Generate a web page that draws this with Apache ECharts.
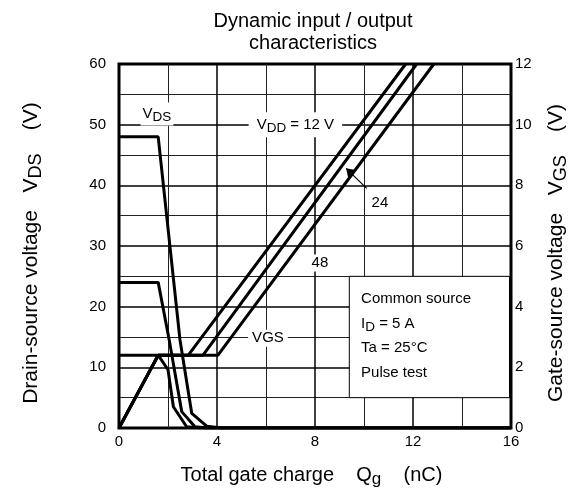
<!DOCTYPE html>
<html><head><meta charset="utf-8">
<script src="https://cdn.jsdelivr.net/npm/echarts@6/dist/echarts.min.js"></script>
<style>html,body{margin:0;padding:0;background:#fff}#c{width:580px;height:491px}</style>
</head><body><div id="c"></div>
<script>
// ---- data (Qg in nC, VDS in V on left axis, VGS in V on right axis) ----
const vds12 = [[0,12],[1.6,12],[2.0,9.6],[2.22,3.5],[2.76,0.2],[3.3,0],[16,0]];
const vds24 = [[0,24],[1.6,24],[2.05,14.5],[2.56,2.7],[3.1,0.2],[3.6,0],[16,0]];
const vds48 = [[0,48],[1.6,48],[2.49,14.5],[2.97,2.4],[3.58,0.3],[4.2,0],[16,0]];
const vgs12 = [[0,0],[1.6,2.4],[2.83,2.4],[11.7,12]];
const vgs24 = [[0,0],[1.6,2.4],[3.43,2.4],[12.15,12]];
const vgs48 = [[0,0],[1.6,2.4],[4.04,2.4],[12.85,12]];
const annoText = ['{v|V}{s|DS}','{v|V}{s|DD}{v| = 12 V}','{v|24}','{v|48}','{v|VGS}'];
const annoAt = [[1.55,51.75],[7.2,50],[10.65,37.1],[8.2,27.2],[6.08,14.8]];
const annoPad = [[1,2],[2,8],[2,3],[1,3],[1,4]];
const noteText = '{t|Common source}\n{t|I}{s|D}{t| = 5 A}\n{t|Ta = 25°C}\n{t|Pulse test}';
const noteAt = [9.88,15.16];
const noteBox = [[9.4,5],[15.94,25]];
const arrowFrom = [10.11,39.5], arrowTo = [9.27,42.8];

const FF = "'Liberation Sans', Arial, sans-serif";
const chart = echarts.init(document.getElementById('c'), null, {renderer:'canvas'});
const lineS = (d, yi) => ({type:'line', data:d, yAxisIndex:yi, symbol:'none', silent:true,
  lineStyle:{color:'#000', width:3}, z:3});
const gRich = {
  v:{fontSize:15, fontFamily:FF, fill:'#000'},
  s:{fontSize:13.5, fontFamily:FF, fill:'#000', padding:[7,0,0,0]},
  t:{fontSize:15, fontFamily:FF, fill:'#000', lineHeight:24.5}
};
const nameRich = {
  v:{fontSize:21, fontFamily:FF, color:'#000'},
  s:{fontSize:18, fontFamily:FF, color:'#000', padding:[10,0,0,0]},
  e:{fontSize:21, width:14},
  x:{fontSize:20, fontFamily:FF, color:'#000'},
  xs:{fontSize:17, fontFamily:FF, color:'#000', padding:[9,0,0,0]},
  xe:{fontSize:20, width:7}
};
const tick = {fontSize:15, fontFamily:FF, color:'#000'};
chart.setOption({
  animation:false,
  backgroundColor:'#fff',
  title:{text:'Dynamic input / output\ncharacteristics', left:308, top:5, textAlign:'center',
    textStyle:{fontSize:20, fontWeight:'normal', fontFamily:FF, color:'#000', lineHeight:22}},
  grid:{left:119, right:69, top:64, bottom:63, show:true, borderColor:'#000', borderWidth:3,
    backgroundColor:'transparent', containLabel:false, outerBoundsMode:'none'},
  xAxis:{type:'value', min:0, max:16, interval:4,
    name:'{x|Total gate charge    Q}{xs|g}{x|    (nC)}{xe| }', nameLocation:'middle', nameGap:34,
    nameTextStyle:{fontSize:20, fontFamily:FF, color:'#000', rich:nameRich},
    axisLine:{show:false}, axisTick:{show:false},
    axisLabel:Object.assign({margin:6}, tick),
    minorTick:{show:false, splitNumber:2},
    splitLine:{show:true, lineStyle:{color:'#000', width:1.5}},
    minorSplitLine:{show:true, lineStyle:{color:'#222', width:1}}},
  yAxis:[
    {type:'value', min:0, max:60, interval:10,
     name:'{v|Drain-source voltage   V}{s|DS}{v|    (V)}{e| }', nameLocation:'middle', nameGap:74, nameRotate:90,
     nameTextStyle:{fontSize:21, fontFamily:FF, color:'#000', rich:nameRich},
     axisLine:{show:false}, axisTick:{show:false},
     axisLabel:Object.assign({margin:13}, tick),
     minorTick:{show:false, splitNumber:2},
     splitLine:{show:true, lineStyle:{color:'#000', width:1.5}},
     minorSplitLine:{show:true, lineStyle:{color:'#222', width:1}}},
    {type:'value', min:0, max:12, interval:2, position:'right',
     name:'{v|Gate-source voltage   V}{s|GS}{v|    (V)}{e| }', nameLocation:'middle', nameGap:31, nameRotate:90,
     nameTextStyle:{fontSize:21, fontFamily:FF, color:'#000', rich:nameRich},
     axisLine:{show:false}, axisTick:{show:false}, splitLine:{show:false},
     axisLabel:Object.assign({margin:4}, tick)}
  ],
  series:[
    lineS(vds12,0), lineS(vds24,0), lineS(vds48,0),
    lineS(vgs12,1), lineS(vgs24,1), lineS(vgs48,1),
    {type:'line', data:[], silent:true, z:4,
     markArea:{silent:true, itemStyle:{color:'#fff', borderColor:'#000', borderWidth:1}, label:{show:false},
       data:[[{coord:noteBox[0]},{coord:noteBox[1]}]]},
     markLine:{silent:true, symbol:['none','arrow'], symbolSize:9, label:{show:false},
       lineStyle:{color:'#000', width:1.2, type:'solid'},
       data:[[{coord:arrowFrom},{coord:arrowTo}]]}}
  ]
});
// annotations placed through the chart's own scales
const px = p => chart.convertToPixel({xAxisIndex:0, yAxisIndex:0}, p);
const gfx = annoText.map((t,i) => {
  const p = px(annoAt[i]);
  return {type:'text', x:p[0], y:p[1], z:100, silent:true,
    style:{text:t, rich:gRich, fill:'#000', fontSize:15, fontFamily:FF, align:'center', verticalAlign:'middle',
      backgroundColor:'#fff', padding:annoPad[i]}};
});
const np = px(noteAt);
gfx.push({type:'text', x:np[0], y:np[1], z:101, silent:true,
  style:{text:noteText, rich:gRich, fill:'#000', fontSize:15, fontFamily:FF, lineHeight:24.5, align:'left', verticalAlign:'middle'}});
chart.setOption({graphic:gfx});
</script></body></html>
